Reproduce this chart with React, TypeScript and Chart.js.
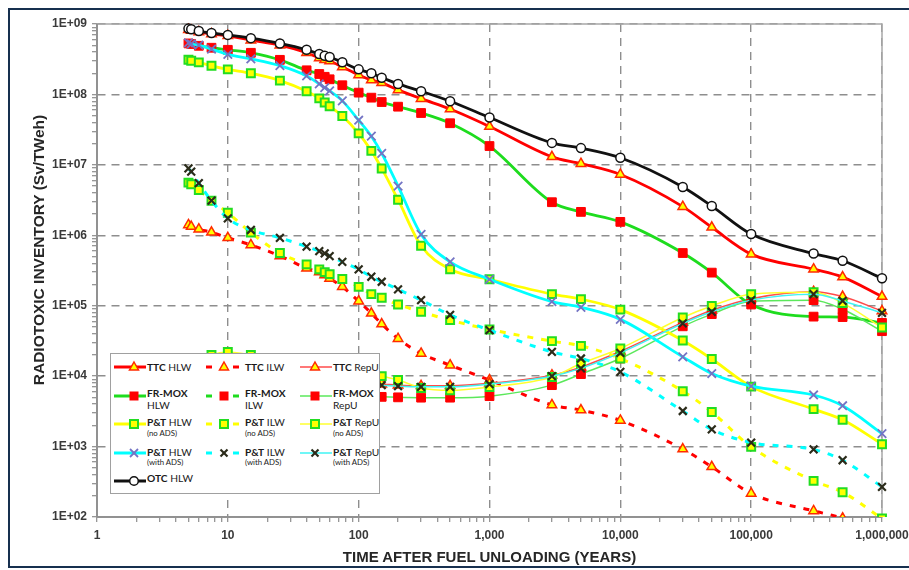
import React, { useEffect, useRef } from "react";
import { Chart, registerables } from "chart.js";
Chart.register(...registerables);

// ---------------- DATA ----------------
const TIMES = [5, 5.25, 6, 7.5, 10, 15, 25, 40, 50, 55, 60, 75, 100, 125, 150, 200, 300, 500, 1000, 3000, 5000, 10000, 30000, 50000, 100000, 300000, 500000, 1000000];

const X_MIN = 1;
const X_MAX = 1e6;
const Y_MIN = 1e2;
const Y_MAX = 1e9;

const TTC_HLW = [8.3e8, 8.1e8, 7.7e8, 7.2e8, 6.8e8, 5.9e8, 5.0e8, 3.9e8, 3.3e8, 3.1e8, 2.98e8, 2.45e8, 1.89e8, 1.6e8, 1.46e8, 1.16e8, 8.7e7, 6.2e7, 3.5e7, 1.3e7, 1.04e7, 7.3e6, 2.55e6, 1.3e6, 5.4e5, 3.3e5, 2.55e5, 1.35e5];
const TTC_ILW = [1.4e6, 1.33e6, 1.22e6, 1.1e6, 9.2e5, 7.3e5, 5.1e5, 3.4e5, 3.0e5, 2.72e5, 2.44e5, 1.86e5, 1.16e5, 7.8e4, 5.5e4, 3.4e4, 2.1e4, 1.43e4, 8.8e3, 3.9e3, 3.3e3, 2.35e3, 920, 515, 216, 122, 96, 55];
const TTC_REPU = [1.5e4, 1.5e4, 1.45e4, 1.4e4, 1.35e4, 1.25e4, 1.1e4, 9.5e3, 9.0e3, 8.8e3, 8.6e3, 8.2e3, 7.9e3, 7.8e3, 7.7e3, 7.45e3, 7.3e3, 7.3e3, 7.9e3, 1.03e4, 1.34e4, 2.25e4, 5.8e4, 8.6e4, 1.26e5, 1.58e5, 1.35e5, 8.4e4];

const FRMOX_HLW = [5.3e8, 5.2e8, 4.9e8, 4.6e8, 4.3e8, 3.9e8, 3.1e8, 2.2e8, 1.95e8, 1.78e8, 1.64e8, 1.35e8, 1.06e8, 9.0e7, 7.8e7, 6.7e7, 5.45e7, 3.9e7, 1.85e7, 2.95e6, 2.15e6, 1.55e6, 5.6e5, 2.95e5, 1.04e5, 7.0e4, 6.9e4, 5.7e4];
const FRMOX_ILW = [1.4e4, 1.4e4, 1.5e4, 1.75e4, 1.8e4, 1.75e4, 1.4e4, 9.0e3, 6.0e3, 5.0e3, 4.0e3, 2.0e3, 3.0e2];
const FRMOX_REPU = [1.2e4, 1.2e4, 1.15e4, 1.1e4, 1.0e4, 9.0e3, 7.5e3, 6.5e3, 6.1e3, 5.9e3, 5.8e3, 5.5e3, 5.3e3, 5.15e3, 5.08e3, 5.0e3, 4.95e3, 4.95e3, 5.2e3, 7.45e3, 1.07e4, 1.78e4, 5.1e4, 7.6e4, 1.16e5, 1.2e5, 8.9e4, 4.35e4];

const PT_HLW_NOADS = [3.1e8, 3.0e8, 2.85e8, 2.55e8, 2.27e8, 2.0e8, 1.57e8, 1.11e8, 8.8e7, 7.7e7, 6.8e7, 4.95e7, 2.8e7, 1.58e7, 8.9e6, 3.2e6, 7.1e5, 3.3e5, 2.37e5, 1.46e5, 1.24e5, 8.8e4, 3.2e4, 1.75e4, 7.1e3, 3.4e3, 2.4e3, 1.08e3];
const PT_ILW_NOADS = [5.6e6, 5.3e6, 4.4e6, 3.1e6, 2.09e6, 1.09e6, 5.6e5, 3.86e5, 3.28e5, 3.0e5, 2.81e5, 2.39e5, 1.85e5, 1.46e5, 1.3e5, 1.04e5, 8.2e4, 6.24e4, 4.6e4, 3.14e4, 2.69e4, 1.78e4, 6.1e3, 3.1e3, 990, 326, 225, 95];
const PT_REPU_NOADS = [1.5e4, 1.5e4, 1.6e4, 2.0e4, 2.2e4, 2.0e4, 1.6e4, 1.4e4, 1.3e4, 1.25e4, 1.2e4, 1.12e4, 1.06e4, 1.02e4, 1.0e4, 8.8e3, 6.8e3, 6.3e3, 7.0e3, 9.7e3, 1.51e4, 2.47e4, 6.8e4, 9.9e4, 1.46e5, 1.55e5, 1.09e5, 4.9e4];

const PT_HLW_ADS = [5.4e8, 5.2e8, 5.0e8, 4.4e8, 3.7e8, 3.2e8, 2.56e8, 1.83e8, 1.41e8, 1.25e8, 1.12e8, 8.1e7, 4.3e7, 2.55e7, 1.46e7, 5.0e6, 1.03e6, 4.2e5, 2.37e5, 1.14e5, 9.5e4, 6.4e4, 1.88e4, 1.09e4, 7.2e3, 5.4e3, 3.8e3, 1.53e3];
const PT_ILW_ADS = [8.9e6, 8.0e6, 5.5e6, 3.1e6, 1.74e6, 1.19e6, 9.2e5, 6.9e5, 5.97e5, 5.54e5, 5.07e5, 4.2e5, 3.28e5, 2.58e5, 2.19e5, 1.71e5, 1.2e5, 7.4e4, 4.5e4, 2.21e4, 1.78e4, 1.15e4, 3.2e3, 1.75e3, 1.14e3, 910, 640, 268];
const PT_REPU_ADS = [1.4e4, 1.4e4, 1.35e4, 1.3e4, 1.25e4, 1.15e4, 1.05e4, 9.3e3, 8.8e3, 8.6e3, 8.4e3, 8.0e3, 7.7e3, 7.5e3, 7.45e3, 7.2e3, 7.05e3, 7.05e3, 7.7e3, 1.0e4, 1.29e4, 2.14e4, 5.6e4, 8.2e4, 1.2e5, 1.46e5, 1.17e5, 7.9e4];

const OTC_HLW = [8.6e8, 8.4e8, 7.95e8, 7.45e8, 7.0e8, 6.3e8, 5.3e8, 4.3e8, 3.75e8, 3.55e8, 3.4e8, 2.86e8, 2.27e8, 2.0e8, 1.73e8, 1.41e8, 1.11e8, 8.0e7, 4.7e7, 2.05e7, 1.73e7, 1.26e7, 4.85e6, 2.6e6, 1.04e6, 5.5e5, 4.35e5, 2.45e5];

// ---------------- STYLE ----------------
const RED = "#FF0000";
const RED_THIN = "#FF4B4B";
const GREEN = "#1EDC1E";
const GREEN_THIN = "#5BE85B";
const YELLOW = "#FFFF00";
const YELLOW_THIN = "#FFFF30";
const CYAN = "#00FFFF";
const CYAN_THIN = "#40F4F4";
const BLACK = "#111111";

type MarkerKind = "tri" | "redSq" | "ySq" | "blueX" | "darkX" | "circ";
type LineKind = "hlw" | "ilw" | "repu";

const MARKERS: Record<MarkerKind, any> = {
  tri: { pointStyle: "triangle", pointRadius: 5.5, pointBackgroundColor: "#FFFF00", pointBorderColor: "#FF2A00", pointBorderWidth: 1.5 },
  redSq: { pointStyle: "rect", pointRadius: 6.2, pointBackgroundColor: "#FF0000", pointBorderColor: "#FF0000", pointBorderWidth: 1 },
  ySq: { pointStyle: "rect", pointRadius: 5.6, pointBackgroundColor: "#FFFF00", pointBorderColor: "#22DD22", pointBorderWidth: 2 },
  blueX: { pointStyle: "crossRot", pointRadius: 6, pointBackgroundColor: "#7474C4", pointBorderColor: "#7474C4", pointBorderWidth: 1.8 },
  darkX: { pointStyle: "crossRot", pointRadius: 5.5, pointBackgroundColor: "#2B2B1A", pointBorderColor: "#2B2B1A", pointBorderWidth: 2.2 },
  circ: { pointStyle: "circle", pointRadius: 4.5, pointBackgroundColor: "#FFFFFF", pointBorderColor: "#111111", pointBorderWidth: 1.5 },
};

const LINES: Record<LineKind, any> = {
  hlw: { borderWidth: 2.8, borderDash: [] },
  ilw: { borderWidth: 3, borderDash: [6, 8] },
  repu: { borderWidth: 1.5, borderDash: [] },
};

interface SeriesDef {
  name: string;
  kind: string;
  values: number[];
  color: string;
  line: LineKind;
  marker: MarkerKind;
}

const SERIES: SeriesDef[] = [
  { name: "TTC", kind: "HLW", values: TTC_HLW, color: RED, line: "hlw", marker: "tri" },
  { name: "TTC", kind: "ILW", values: TTC_ILW, color: RED, line: "ilw", marker: "tri" },
  { name: "TTC", kind: "RepU", values: TTC_REPU, color: RED_THIN, line: "repu", marker: "tri" },
  { name: "FR-MOX", kind: "HLW", values: FRMOX_HLW, color: GREEN, line: "hlw", marker: "redSq" },
  { name: "FR-MOX", kind: "ILW", values: FRMOX_ILW, color: GREEN, line: "ilw", marker: "redSq" },
  { name: "FR-MOX", kind: "RepU", values: FRMOX_REPU, color: GREEN_THIN, line: "repu", marker: "redSq" },
  { name: "P&T", kind: "HLW (no ADS)", values: PT_HLW_NOADS, color: YELLOW, line: "hlw", marker: "ySq" },
  { name: "P&T", kind: "ILW (no ADS)", values: PT_ILW_NOADS, color: YELLOW, line: "ilw", marker: "ySq" },
  { name: "P&T", kind: "RepU (no ADS)", values: PT_REPU_NOADS, color: YELLOW_THIN, line: "repu", marker: "ySq" },
  { name: "P&T", kind: "HLW (with ADS)", values: PT_HLW_ADS, color: CYAN, line: "hlw", marker: "blueX" },
  { name: "P&T", kind: "ILW (with ADS)", values: PT_ILW_ADS, color: CYAN, line: "ilw", marker: "darkX" },
  { name: "P&T", kind: "RepU (with ADS)", values: PT_REPU_ADS, color: CYAN_THIN, line: "repu", marker: "darkX" },
  { name: "OTC", kind: "HLW", values: OTC_HLW, color: BLACK, line: "hlw", marker: "circ" },
];

const isMajor = (v: number) => Math.abs(Math.log10(v) - Math.round(Math.log10(v))) < 1e-9;

const logTicks = (min: number, max: number) => {
  const out: number[] = [];
  const e0 = Math.round(Math.log10(min));
  const e1 = Math.round(Math.log10(max));
  for (let e = e0; e < e1; e++) {
    for (let m = 1; m <= 9; m++) out.push(m * Math.pow(10, e));
  }
  out.push(max);
  return out;
};

const fmtX = (v: number) => Math.round(v).toLocaleString("en-US");
const fmtY = (v: number) => {
  const e = Math.round(Math.log10(v));
  return "1E+" + String(e).padStart(2, "0");
};

const frameRect = {
  id: "frameRect",
  beforeDatasetsDraw(chart: any) {
    const { ctx, chartArea } = chart;
    ctx.save();
    ctx.strokeStyle = "#A8A8A8";
    ctx.lineWidth = 1.5;
    ctx.strokeRect(chartArea.left, chartArea.top, chartArea.right - chartArea.left, chartArea.bottom - chartArea.top);
    ctx.beginPath();
    ctx.strokeStyle = "#8C8C8C";
    ctx.moveTo(chartArea.left, chartArea.top);
    ctx.lineTo(chartArea.left, chartArea.bottom);
    ctx.lineTo(chartArea.right, chartArea.bottom);
    ctx.stroke();
    ctx.restore();
  },
};

const TICK_FONT = { family: '"Liberation Sans", Arial, sans-serif', size: 12, weight: "bold" as const };

function ChartCanvas() {
  const ref = useRef<HTMLCanvasElement | null>(null);
  useEffect(() => {
    if (!ref.current) return;
    const datasets = SERIES.map((s, i) => ({
      label: s.name + " " + s.kind,
      data: s.values.map((v, j) => ({ x: TIMES[j], y: v })),
      borderColor: s.color,
      backgroundColor: s.color,
      ...LINES[s.line],
      ...MARKERS[s.marker],
      pointHoverRadius: MARKERS[s.marker].pointRadius,
      fill: false,
      cubicInterpolationMode: "monotone" as const,
      borderCapStyle: "butt" as const,
      clip: { left: 8, top: 8, right: 8, bottom: 0 },
      order: -i,
    }));
    const chart = new Chart(ref.current, {
      type: "line",
      data: { datasets },
      options: {
        animation: false,
        responsive: false,
        maintainAspectRatio: false,
        layout: { padding: { left: 0, top: 24, right: 27, bottom: 0 } },
        plugins: { legend: { display: false }, tooltip: { enabled: false } },
        scales: {
          x: {
            type: "logarithmic",
            min: X_MIN,
            max: X_MAX,
            afterFit: (s: any) => {
              s.height = 53;
              s.paddingLeft = 0;
              s.paddingRight = 0;
            },
            afterBuildTicks: (s: any) => {
              s.ticks = logTicks(X_MIN, X_MAX).map((v) => ({ value: v }));
            },
            ticks: {
              autoSkip: false,
              maxRotation: 0,
              minRotation: 0,
              padding: 6,
              color: "#3A3A3A",
              font: TICK_FONT,
              callback: (v: any) => (isMajor(Number(v)) ? fmtX(Number(v)) : ""),
            },
            grid: {
              color: (c: any) => (c.tick && isMajor(c.tick.value) ? "#8E8E8E" : "rgba(0,0,0,0)"),
              lineWidth: 1.4,
              tickColor: "#8C8C8C",
              tickLength: 5,
              tickWidth: 1.2,
            },
            border: { color: "#8C8C8C", width: 1.5, dash: [8, 6] },
          },
          y: {
            type: "logarithmic",
            min: Y_MIN,
            max: Y_MAX,
            afterFit: (s: any) => {
              s.width = 97;
              s.paddingTop = 0;
              s.paddingBottom = 0;
            },
            afterBuildTicks: (s: any) => {
              s.ticks = logTicks(Y_MIN, Y_MAX).map((v) => ({ value: v }));
            },
            ticks: {
              autoSkip: false,
              padding: 5,
              color: "#3A3A3A",
              font: TICK_FONT,
              callback: (v: any) => (isMajor(Number(v)) ? fmtY(Number(v)) : ""),
            },
            grid: {
              color: (c: any) => (c.tick && isMajor(c.tick.value) ? "#8E8E8E" : "rgba(0,0,0,0)"),
              lineWidth: 1.4,
              tickColor: "#8C8C8C",
              tickLength: 5,
              tickWidth: 1.2,
            },
            border: { color: "#8C8C8C", width: 1.5, dash: [8, 6] },
          },
        },
      },
      plugins: [frameRect],
    } as any);
    return () => chart.destroy();
  }, []);
  return <canvas ref={ref} width={909} height={570} style={{ position: "absolute", left: 0, top: 0, width: 909, height: 570 }} />;
}

// ---------------- LEGEND ----------------
function MarkerSvg({ kind, cx, cy }: { kind: MarkerKind; cx: number; cy: number }) {
  switch (kind) {
    case "tri":
      return <polygon points={`${cx},${cy - 5} ${cx + 4.5},${cy + 3} ${cx - 4.5},${cy + 3}`} fill="#FFFF00" stroke="#FF2A00" strokeWidth={1.5} />;
    case "redSq":
      return <rect x={cx - 4.5} y={cy - 4.5} width={9} height={9} fill="#FF0000" />;
    case "ySq":
      return <rect x={cx - 4} y={cy - 4} width={8} height={8} fill="#FFFF00" stroke="#22DD22" strokeWidth={2} />;
    case "blueX":
      return (
        <g stroke="#7474C4" strokeWidth={1.8}>
          <line x1={cx - 4} y1={cy - 4} x2={cx + 4} y2={cy + 4} />
          <line x1={cx - 4} y1={cy + 4} x2={cx + 4} y2={cy - 4} />
        </g>
      );
    case "darkX":
      return (
        <g stroke="#2B2B1A" strokeWidth={2.2}>
          <line x1={cx - 3.5} y1={cy - 3.5} x2={cx + 3.5} y2={cy + 3.5} />
          <line x1={cx - 3.5} y1={cy + 3.5} x2={cx + 3.5} y2={cy - 3.5} />
        </g>
      );
    case "circ":
      return <circle cx={cx} cy={cy} r={4.3} fill="#FFFFFF" stroke="#111" strokeWidth={1.5} />;
  }
  return null;
}

const COL_SAMPLE_LEFT = [3, 93, 189];
const COL_SAMPLE_W = [32, 36, 32];
const COL_MARKER_X = [20, 20, 15];
const COL_TEXT_LEFT = [36, 134, 222];
const ROW_MARKER_Y = [13, 42, 70, 99, 127];
const ROW_TEXT1_Y = [13, 38.5, 68, 97.5, 124];
const ROW_TEXT2_Y = [13, 50.5, 79, 108, 124];

const LEGEND_FONT = 'Lato, "Open Sans", sans-serif';
const LEGEND_SIZE = 10.2;
const LEGEND_SUB_SIZE = 7.8;

function LegendItem({ s, col, row }: { s: SeriesDef; col: number; row: number }) {
  const w = COL_SAMPLE_W[col];
  const lw = s.line === "repu" ? 1.5 : 3;
  const parts = s.kind.split(" (");
  const main = parts[0];
  const sub = parts[1] ? "(" + parts[1] : null;
  const twoLine = s.name === "FR-MOX";
  const base: React.CSSProperties = { position: "absolute", left: COL_TEXT_LEFT[col], lineHeight: "14px", fontFamily: LEGEND_FONT, fontSize: LEGEND_SIZE, color: "#1A1A1A", whiteSpace: "nowrap" };
  return (
    <>
      <svg width={w} height={16} style={{ position: "absolute", left: COL_SAMPLE_LEFT[col], top: ROW_MARKER_Y[row] - 8 }}>
        {s.line === "ilw" ? (
          <g stroke={s.color} strokeWidth={lw}>
            <line x1={2} y1={8} x2={8} y2={8} />
            <line x1={w - 7} y1={8} x2={w - 1} y2={8} />
          </g>
        ) : (
          <line x1={0} y1={8} x2={w} y2={8} stroke={s.color} strokeWidth={lw} />
        )}
        <MarkerSvg kind={s.marker} cx={COL_MARKER_X[col]} cy={8} />
      </svg>
      {twoLine ? (
        <>
          <div style={{ ...base, top: ROW_TEXT1_Y[row] - 7, fontWeight: 700 }}>{s.name}</div>
          <div style={{ ...base, top: ROW_TEXT2_Y[row] - 7 }}>{main}</div>
        </>
      ) : (
        <div style={{ ...base, top: ROW_TEXT1_Y[row] - 7 }}>
          <span style={{ fontWeight: 700 }}>{s.name}</span> {main}
        </div>
      )}
      {sub && (
        <div style={{ ...base, top: ROW_TEXT2_Y[row] - 5, lineHeight: "10px", fontSize: LEGEND_SUB_SIZE }}>{sub}</div>
      )}
    </>
  );
}

function Legend() {
  return (
    <div style={{ position: "absolute", left: 110, top: 353, width: 270, height: 141, boxSizing: "border-box", border: "1.5px solid #A0A0A0", background: "#FFFFFF" }}>
      {SERIES.map((s, i) => (
        <LegendItem key={i} s={s} col={i % 3} row={Math.floor(i / 3)} />
      ))}
    </div>
  );
}

export default function App() {
  return (
    <div style={{ position: "absolute", left: 0, top: 0, width: 909, height: 570, overflow: "hidden", background: "#FFFFFF" }}>
      <ChartCanvas />
      <Legend />
      <div
        style={{
          position: "absolute",
          left: 39 - 200,
          top: 250 - 10,
          width: 400,
          height: 20,
          lineHeight: "20px",
          textAlign: "center",
          transform: "rotate(-90deg)",
          transformOrigin: "50% 50%",
          fontFamily: '"Liberation Sans", Arial, sans-serif',
          fontWeight: 700,
          fontSize: 15.5,
          color: "#262626",
          whiteSpace: "nowrap",
        }}
      >
        RADIOTOXIC INVENTORY (Sv/TWeh)
      </div>
      <div
        style={{
          position: "absolute",
          left: 97,
          top: 557 - 10,
          width: 785,
          height: 20,
          lineHeight: "20px",
          textAlign: "center",
          fontFamily: '"Liberation Sans", Arial, sans-serif',
          fontWeight: 700,
          fontSize: 15,
          color: "#262626",
          whiteSpace: "nowrap",
        }}
      >
        TIME AFTER FUEL UNLOADING (YEARS)
      </div>
      <div style={{ position: "absolute", left: 8, top: 8, width: 1000, height: 560, boxSizing: "border-box", border: "2px solid #17304F" }} />
    </div>
  );
}
